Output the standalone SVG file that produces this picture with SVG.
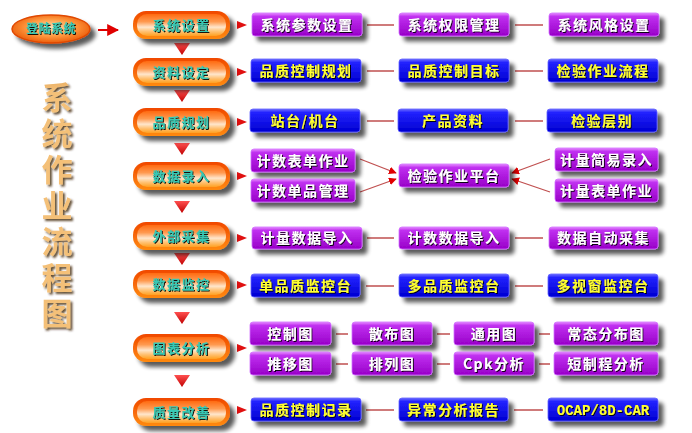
<svg xmlns="http://www.w3.org/2000/svg" width="692" height="433" viewBox="0 0 692 433">
<defs>
<linearGradient id="gOrOut" x1="0" y1="0" x2="0" y2="1"><stop offset="0" stop-color="#f04800"/><stop offset="1" stop-color="#ff8a10"/></linearGradient>
<linearGradient id="gOrIn" x1="0" y1="0" x2="0" y2="1"><stop offset="0" stop-color="#ff6a10"/><stop offset="0.35" stop-color="#ff9a50"/><stop offset="0.6" stop-color="#ffe6cc"/><stop offset="0.8" stop-color="#ffc070"/><stop offset="1" stop-color="#ffa020"/></linearGradient>
<linearGradient id="gBlue" x1="0" y1="0" x2="0" y2="1"><stop offset="0" stop-color="#7070ff"/><stop offset="0.15" stop-color="#2222ff"/><stop offset="1" stop-color="#0000d0"/></linearGradient>
<linearGradient id="gPur" x1="0" y1="0" x2="0" y2="1"><stop offset="0" stop-color="#e890ff"/><stop offset="0.15" stop-color="#c030f0"/><stop offset="1" stop-color="#9800c8"/></linearGradient>
<linearGradient id="gRed" x1="0" y1="0" x2="0" y2="1"><stop offset="0" stop-color="#ff5050"/><stop offset="1" stop-color="#c00000"/></linearGradient>
<linearGradient id="gTitle" x1="0" y1="0" x2="1" y2="0"><stop offset="0" stop-color="#f4c078"/><stop offset="1" stop-color="#c87a28"/></linearGradient>
<radialGradient id="gEll" cx="0.5" cy="0.45" r="0.6"><stop offset="0" stop-color="#ffe0b8"/><stop offset="0.5" stop-color="#ff9a40"/><stop offset="1" stop-color="#e85000"/></radialGradient>
<filter id="sh" x="-10%" y="-20%" width="130%" height="170%"><feGaussianBlur in="SourceAlpha" stdDeviation="2"/><feOffset dx="5" dy="5"/><feComponentTransfer><feFuncA type="linear" slope="0.65"/></feComponentTransfer><feMerge><feMergeNode/><feMergeNode in="SourceGraphic"/></feMerge></filter>
<filter id="ts" x="-10%" y="-30%" width="120%" height="160%"><feDropShadow dx="1" dy="1" stdDeviation="0.5" flood-color="#000" flood-opacity="0.9"/></filter>
<filter id="tt" x="-30%" y="-10%" width="170%" height="120%"><feDropShadow dx="2" dy="2" stdDeviation="1.2" flood-color="#3a2000" flood-opacity="0.8"/></filter>
<marker id="ah" viewBox="0 0 10 10" refX="9" refY="5" markerWidth="6" markerHeight="6" orient="auto"><path d="M0,0 L10,5 L0,10 z" fill="#e00000"/></marker>
</defs>
<style>
text{font-family:"Noto Sans CJK SC","Noto Sans",sans-serif;font-weight:bold;text-anchor:middle}
.ot{fill:#38c8b4;font-size:13px;letter-spacing:1.5px;filter:url(#ts)}
.wt{fill:#ffffff;font-size:14px;letter-spacing:1.5px;filter:url(#ts)}
.yt{fill:#ffff30;font-size:14px;letter-spacing:1.5px;filter:url(#ts)}
.mono{font-family:"Liberation Mono",monospace;letter-spacing:0}
.title{fill:url(#gTitle);font-size:31px;letter-spacing:5px;writing-mode:vertical-rl;text-anchor:start;filter:url(#tt)}
.pb{fill:url(#gPur);stroke:#d070ff;stroke-width:0.8}
.bb{fill:url(#gBlue);stroke:#6060ff;stroke-width:0.8}
.ln{stroke:#c05050;stroke-width:1.3;fill:none}
.dn{fill:url(#gRed)}
.rt{fill:#e01010}
</style>
<rect width="692" height="433" fill="#ffffff"/>

<g id="title">
<text class="title" x="57" y="82">系统作业流程图</text>
</g>

<g id="login" filter="url(#sh)">
<ellipse cx="51" cy="29" rx="39" ry="14" fill="url(#gEll)" stroke="#e04800" stroke-width="1.5"/>
<text class="ot" x="51" y="33" style="font-size:12px;letter-spacing:0.5px">登陆系统</text>
</g>

<g id="connectors">
<line x1="98" y1="30" x2="118" y2="30" stroke="#e00000" stroke-width="2" marker-end="url(#ah)"/>
<path class="dn" d="M174,43 L190,43 L182,55 z"/>
<path class="dn" d="M174,90 L190,90 L182,102 z"/>
<path class="dn" d="M174,143 L190,143 L182,155 z"/>
<path class="dn" d="M174,201 L190,201 L182,213 z"/>
<path class="dn" d="M174,253 L190,253 L182,265 z"/>
<path class="dn" d="M174,312 L190,312 L182,324 z"/>
<path class="dn" d="M174,375 L190,375 L182,387 z"/>
<path class="rt" d="M237,21 L247,25 L237,29 z"/>
<path class="rt" d="M237,68 L247,72 L237,76 z"/>
<path class="rt" d="M237,118 L247,122 L237,126 z"/>
<path class="rt" d="M237,172 L247,176 L237,180 z"/>
<path class="rt" d="M237,234 L247,238 L237,242 z"/>
<path class="rt" d="M237,281 L247,285 L237,289 z"/>
<path class="rt" d="M237,344 L247,348 L237,352 z"/>
<path class="rt" d="M237,406 L247,410 L237,414 z"/>
<path class="ln" d="M367,25 H394 M515,25 H543"/>
<path class="ln" d="M367,71 H394 M515,71 H543"/>
<path class="ln" d="M367,121 H394 M515,121 H543"/>
<path class="ln" d="M367,238 H394 M515,238 H543"/>
<path class="ln" d="M366,286 H394 M515,286 H543"/>
<path class="ln" d="M336,334 H348 M437,334 H450 M539,334 H550"/>
<path class="ln" d="M336,364 H348 M437,364 H450 M539,364 H550"/>
<path class="ln" d="M366,410 H394 M514,410 H543"/>
<line class="ln" x1="360" y1="159" x2="396" y2="173" marker-end="url(#ah)"/>
<line class="ln" x1="360" y1="192" x2="396" y2="179" marker-end="url(#ah)"/>
<line class="ln" x1="550" y1="159" x2="512" y2="173" marker-end="url(#ah)"/>
<line class="ln" x1="550" y1="192" x2="512" y2="179" marker-end="url(#ah)"/>
</g>

<g id="b1" filter="url(#sh)"><rect x="133" y="11" width="97" height="28" rx="13" fill="url(#gOrOut)"/><rect x="137" y="14" width="89" height="22" rx="10" fill="url(#gOrIn)"/><text class="ot" x="181.5" y="30">系统设置</text></g>
<g id="b2" filter="url(#sh)"><rect x="133" y="58" width="97" height="28" rx="13" fill="url(#gOrOut)"/><rect x="137" y="61" width="89" height="22" rx="10" fill="url(#gOrIn)"/><text class="ot" x="181.5" y="77">资料设定</text></g>
<g id="b3" filter="url(#sh)"><rect x="133" y="108" width="97" height="28" rx="13" fill="url(#gOrOut)"/><rect x="137" y="111" width="89" height="22" rx="10" fill="url(#gOrIn)"/><text class="ot" x="181.5" y="127">品质规划</text></g>
<g id="b4" filter="url(#sh)"><rect x="133" y="162" width="97" height="28" rx="13" fill="url(#gOrOut)"/><rect x="137" y="165" width="89" height="22" rx="10" fill="url(#gOrIn)"/><text class="ot" x="181.5" y="181">数据录入</text></g>
<g id="b5" filter="url(#sh)"><rect x="133" y="222" width="97" height="28" rx="13" fill="url(#gOrOut)"/><rect x="137" y="225" width="89" height="22" rx="10" fill="url(#gOrIn)"/><text class="ot" x="181.5" y="241">外部采集</text></g>
<g id="b6" filter="url(#sh)"><rect x="133" y="270" width="97" height="28" rx="13" fill="url(#gOrOut)"/><rect x="137" y="273" width="89" height="22" rx="10" fill="url(#gOrIn)"/><text class="ot" x="181.5" y="289">数据监控</text></g>
<g id="b7" filter="url(#sh)"><rect x="133" y="334" width="97" height="28" rx="13" fill="url(#gOrOut)"/><rect x="137" y="337" width="89" height="22" rx="10" fill="url(#gOrIn)"/><text class="ot" x="181.5" y="353">图表分析</text></g>
<g id="b8" filter="url(#sh)"><rect x="133" y="398" width="97" height="28" rx="13" fill="url(#gOrOut)"/><rect x="137" y="401" width="89" height="22" rx="10" fill="url(#gOrIn)"/><text class="ot" x="181.5" y="417">质量改善</text></g>

<g id="n11" filter="url(#sh)"><rect class="pb" x="252" y="13" width="110" height="23" rx="3"/><text class="wt" x="307" y="30">系统参数设置</text></g>
<g id="n12" filter="url(#sh)"><rect class="pb" x="399" y="13" width="110" height="23" rx="3"/><text class="wt" x="454" y="30">系统权限管理</text></g>
<g id="n13" filter="url(#sh)"><rect class="pb" x="549" y="13" width="110" height="23" rx="3"/><text class="wt" x="604" y="30">系统风格设置</text></g>
<g id="n21" filter="url(#sh)"><rect class="bb" x="251" y="59" width="110" height="23" rx="3"/><text class="yt" x="306" y="76">品质控制规划</text></g>
<g id="n22" filter="url(#sh)"><rect class="bb" x="399" y="59" width="110" height="23" rx="3"/><text class="yt" x="454" y="76">品质控制目标</text></g>
<g id="n23" filter="url(#sh)"><rect class="bb" x="548" y="59" width="110" height="23" rx="3"/><text class="yt" x="603" y="76">检验作业流程</text></g>
<g id="n31" filter="url(#sh)"><rect class="bb" x="250" y="109" width="110" height="23" rx="3"/><text class="yt" x="305" y="126">站台/机台</text></g>
<g id="n32" filter="url(#sh)"><rect class="bb" x="398" y="109" width="110" height="23" rx="3"/><text class="yt" x="453" y="126">产品资料</text></g>
<g id="n33" filter="url(#sh)"><rect class="bb" x="547" y="109" width="110" height="23" rx="3"/><text class="yt" x="602" y="126">检验层别</text></g>
<g id="n41" filter="url(#sh)"><rect class="pb" x="251" y="149" width="104" height="23" rx="3"/><text class="wt" x="303" y="166">计数表单作业</text></g>
<g id="n42" filter="url(#sh)"><rect class="pb" x="251" y="179" width="104" height="23" rx="3"/><text class="wt" x="303" y="196">计数单品管理</text></g>
<g id="n43" filter="url(#sh)"><rect class="pb" x="399" y="164" width="110" height="23" rx="3"/><text class="wt" x="454" y="181">检验作业平台</text></g>
<g id="n44" filter="url(#sh)"><rect class="pb" x="555" y="148" width="103" height="23" rx="3"/><text class="wt" x="606.5" y="165">计量简易录入</text></g>
<g id="n45" filter="url(#sh)"><rect class="pb" x="555" y="179" width="103" height="23" rx="3"/><text class="wt" x="606.5" y="196">计量表单作业</text></g>
<g id="n51" filter="url(#sh)"><rect class="pb" x="252" y="227" width="110" height="22" rx="3"/><text class="wt" x="307" y="243">计量数据导入</text></g>
<g id="n52" filter="url(#sh)"><rect class="pb" x="399" y="227" width="110" height="22" rx="3"/><text class="wt" x="454" y="243">计数数据导入</text></g>
<g id="n53" filter="url(#sh)"><rect class="pb" x="549" y="227" width="109" height="22" rx="3"/><text class="wt" x="603.5" y="243">数据自动采集</text></g>
<g id="n61" filter="url(#sh)"><rect class="bb" x="251" y="274" width="109" height="23" rx="3"/><text class="yt" x="305.5" y="291">单品质监控台</text></g>
<g id="n62" filter="url(#sh)"><rect class="bb" x="399" y="274" width="110" height="23" rx="3"/><text class="yt" x="454" y="291">多品质监控台</text></g>
<g id="n63" filter="url(#sh)"><rect class="bb" x="548" y="274" width="110" height="23" rx="3"/><text class="yt" x="603" y="291">多视窗监控台</text></g>
<g id="n71" filter="url(#sh)"><rect class="pb" x="250" y="322" width="81" height="23" rx="3"/><text class="wt" x="290.5" y="339">控制图</text></g>
<g id="n72" filter="url(#sh)"><rect class="pb" x="352" y="322" width="80" height="23" rx="3"/><text class="wt" x="392" y="339">散布图</text></g>
<g id="n73" filter="url(#sh)"><rect class="pb" x="454" y="322" width="80" height="23" rx="3"/><text class="wt" x="494" y="339">通用图</text></g>
<g id="n74" filter="url(#sh)"><rect class="pb" x="554" y="322" width="104" height="23" rx="3"/><text class="wt" x="606" y="339">常态分布图</text></g>
<g id="n75" filter="url(#sh)"><rect class="pb" x="250" y="352" width="81" height="23" rx="3"/><text class="wt" x="290.5" y="369">推移图</text></g>
<g id="n76" filter="url(#sh)"><rect class="pb" x="352" y="352" width="80" height="23" rx="3"/><text class="wt" x="392" y="369">排列图</text></g>
<g id="n77" filter="url(#sh)"><rect class="pb" x="454" y="352" width="80" height="23" rx="3"/><text class="wt" x="494" y="369">Cpk分析</text></g>
<g id="n78" filter="url(#sh)"><rect class="pb" x="554" y="352" width="104" height="23" rx="3"/><text class="wt" x="606" y="369">短制程分析</text></g>
<g id="n81" filter="url(#sh)"><rect class="bb" x="251" y="398" width="110" height="23" rx="3"/><text class="yt" x="306" y="415">品质控制记录</text></g>
<g id="n82" filter="url(#sh)"><rect class="bb" x="399" y="398" width="109" height="23" rx="3"/><text class="yt" x="453.5" y="415">异常分析报告</text></g>
<g id="n83" filter="url(#sh)"><rect class="bb" x="548" y="398" width="110" height="23" rx="3"/><text class="yt mono" x="603" y="415">OCAP/8D-CAR</text></g>
</svg>
